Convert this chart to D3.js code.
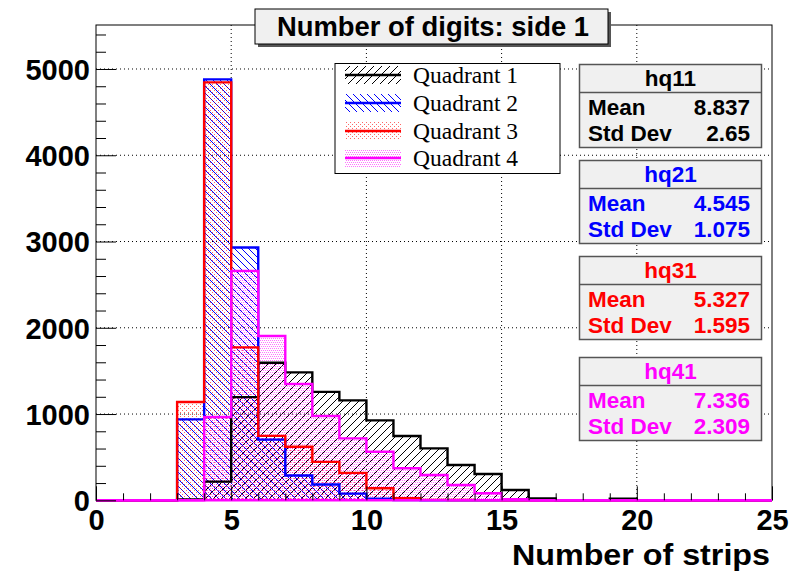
<!DOCTYPE html>
<html><head><meta charset="utf-8">
<script src="https://cdn.jsdelivr.net/npm/d3@7"></script>
<style>body{margin:0;background:#fff}svg{display:block}</style>
</head><body>
<script>
// ---- data ----
const binEdges = d3.range(0, 26); // 25 bins of width 1, from 0 to 25
const q1 = [0,0,0,10,216,1196,1595,1483,1257,1158,926,745,602,409,305,120,22,0,0,18,0,0,0,0,0];
const q2 = [0,0,0,938,4880,2931,703,287,183,77,18,4,0,0,0,0,0,0,0,0,0,0,0,0,0];
const q3 = [0,0,0,1140,4845,1773,747,620,446,318,140,24,5,3,2,0,0,0,0,0,0,0,0,0,0];
const q4 = [0,0,0,0,966,2660,1904,1348,978,718,563,371,293,177,81,12,0,0,0,0,0,0,0,0,0];
const seriesNames = ["Quadrant 1","Quadrant 2","Quadrant 3","Quadrant 4"];
const seriesColors = ["#000000","#0000ff","#ff0000","#ff00ff"];
const statNames = ["hq11","hq21","hq31","hq41"];
const statMeans = ["8.837","4.545","5.327","7.336"];
const statStd = ["2.65","1.075","1.595","2.309"];
const xTicks = [0,5,10,15,20,25];
const yTicks = [0,1000,2000,3000,4000,5000];
const titleText = "Number of digits: side 1";
const xTitle = "Number of strips";

const W = 803, H = 574;
const svg = d3.select("body").append("svg").attr("width", W).attr("height", H);
const defs = svg.append("defs");

const x = d3.scaleLinear().domain([0,25]).range([96,772]);
const y = d3.scaleLinear().domain([0,5510]).range([500.3,25]);

// patterns
function hatch(id, color, size, dir){
  const p = defs.append("pattern").attr("id",id).attr("patternUnits","userSpaceOnUse")
    .attr("width",size).attr("height",size);
  const d = dir > 0
    ? `M0,${size} L${size},0 M-1,1 L1,-1 M${size-1},${size+1} L${size+1},${size-1}`
    : `M0,0 L${size},${size} M-1,${size-1} L1,${size+1} M${size-1},-1 L${size+1},1`;
  p.append("path").attr("d",d).attr("stroke",color).attr("stroke-width",1).attr("fill","none");
}
function dots(id, color, pts, op){
  const p = defs.append("pattern").attr("id",id).attr("patternUnits","userSpaceOnUse")
    .attr("width",4).attr("height",4);
  pts.forEach(([a,b]) => p.append("rect").attr("x",a).attr("y",b).attr("width",1).attr("height",1)
    .attr("fill",color).attr("fill-opacity",op));
}
hatch("p1","#000",8,1);
hatch("p2","#0000ff",7,-1);
dots("p3","#ff0000",[[0,0],[2,2]],0.6);
dots("p4","#ff00ff",[[0,0],[2,0],[1,2],[3,2]],0.55);
const fills = ["url(#p1)","url(#p2)","url(#p3)","url(#p4)"];

// grid
const g = svg.append("g");
g.selectAll("line.gx").data(xTicks.filter(t=>t>0&&t<25)).join("line")
  .attr("x1",d=>x(d)).attr("x2",d=>x(d)).attr("y1",y.range()[1]).attr("y2",y(0))
  .attr("stroke","#000").attr("stroke-width",1).attr("stroke-dasharray","1,3");
g.selectAll("line.gy").data(yTicks.filter(t=>t>0)).join("line")
  .attr("x1",x(0)).attr("x2",x(25)).attr("y1",d=>y(d)).attr("y2",d=>y(d))
  .attr("stroke","#000").attr("stroke-width",1).attr("stroke-dasharray","1,3");

// histograms
const data = [q1,q2,q3,q4];
function stepPath(vals){
  let d = `M${x(0)},${y(0)}`;
  vals.forEach((v,i)=>{ d += `V${y(v)}H${x(binEdges[i+1])}`; });
  d += `V${y(0)}`;
  return d;
}
data.forEach((vals,i)=>{
  svg.append("path").attr("d", stepPath(vals) + "Z").attr("fill",fills[i]).attr("stroke","none");
});
data.forEach((vals,i)=>{
  svg.append("path").attr("d", stepPath(vals)).attr("fill","none")
    .attr("stroke",seriesColors[i]).attr("stroke-width",2.4).attr("stroke-linejoin","miter");
});

// frame
svg.append("rect").attr("x",x(0)).attr("y",y.range()[1]).attr("width",x(25)-x(0)).attr("height",y(0)-y.range()[1])
  .attr("fill","none").attr("stroke","#000").attr("stroke-width",1);
svg.append("line").attr("x1",x(0)).attr("x2",x(25)).attr("y1",y(0)).attr("y2",y(0))
  .attr("stroke","#ff00ff").attr("stroke-width",2.4);

// axes
const font = "'Liberation Sans', Arial, Helvetica, sans-serif";
svg.append("g").attr("transform",`translate(0,${y(0)})`)
  .call(d3.axisBottom(x).tickValues(xTicks).tickSize(-14).tickPadding(9).tickFormat(d3.format("d")));
svg.append("g").attr("transform",`translate(0,${y(0)})`)
  .call(d3.axisBottom(x).tickValues(d3.range(0,26).filter(v=>v%5)).tickSize(-7).tickFormat(""));
const yAxis = svg.append("g").attr("transform",`translate(${x(0)},0)`)
  .call(d3.axisLeft(y).tickValues(yTicks).tickSize(-20).tickPadding(6).tickFormat(d3.format("d")));
svg.append("g").attr("transform",`translate(${x(0)},0)`)
  .call(d3.axisLeft(y).tickValues(d3.range(0,5501,200).filter(v=>v%1000)).tickSize(-10).tickFormat(""));
svg.selectAll(".domain").remove();
svg.selectAll(".tick line").attr("stroke","#000").attr("stroke-width",1);
svg.selectAll(".tick text").attr("font-family",font).attr("font-weight","bold")
  .attr("font-size",29).attr("fill","#000");
yAxis.selectAll(".tick text").attr("dy","0.36em");

svg.append("text").attr("x",770).attr("y",565).attr("text-anchor","end")
  .attr("font-family",font).attr("font-weight","bold").attr("font-size",30)
  .attr("textLength",258).attr("lengthAdjust","spacingAndGlyphs").text(xTitle);

// title box
svg.append("rect").attr("x",258).attr("y",12).attr("width",353).attr("height",35).attr("fill","#555");
svg.append("rect").attr("x",255).attr("y",9).attr("width",353).attr("height",35)
  .attr("fill","#f0f0f0").attr("stroke","#000").attr("stroke-width",1);
svg.append("text").attr("x",433).attr("y",26.5).attr("dy","0.36em").attr("text-anchor","middle")
  .attr("font-family",font).attr("font-weight","bold").attr("font-size",27.4).text(titleText);

// legend
const lg = svg.append("g");
lg.append("rect").attr("x",335).attr("y",63.5).attr("width",225).attr("height",110)
  .attr("fill","#fff").attr("stroke","#000").attr("stroke-width",1);
const legY = [75,103,131,158];
seriesNames.forEach((n,i)=>{
  lg.append("rect").attr("x",345).attr("y",legY[i]-9).attr("width",56).attr("height",18).attr("fill",fills[i]);
  lg.append("line").attr("x1",345).attr("x2",401).attr("y1",legY[i]).attr("y2",legY[i])
    .attr("stroke",seriesColors[i]).attr("stroke-width",2.6);
  lg.append("text").attr("x",413).attr("y",legY[i]).attr("dy","0.35em")
    .attr("font-family","'Liberation Serif', 'Times New Roman', serif").attr("font-size",23.5)
    .attr("fill","#000").text(n);
});

// stat boxes
const boxTop = [64,160,256,357];
statNames.forEach((n,i)=>{
  const t = boxTop[i], c = seriesColors[i];
  const sg = svg.append("g");
  sg.append("rect").attr("x",579.5).attr("y",t+0.5).attr("width",182).attr("height",83)
    .attr("fill","#f0f0f0").attr("stroke","#555").attr("stroke-width",1.5);
  sg.append("line").attr("x1",579.5).attr("x2",761.5).attr("y1",t+28.5).attr("y2",t+28.5)
    .attr("stroke","#555").attr("stroke-width",1.5);
  const tx = (txt,xx,yy,anchor)=>sg.append("text").attr("x",xx).attr("y",yy).attr("dy","0.36em")
    .attr("text-anchor",anchor).attr("font-family",font).attr("font-weight","bold")
    .attr("font-size",22.5).attr("fill",c).text(txt);
  tx(n,670.5,t+13.5,"middle");
  tx("Mean",588,t+43,"start");
  tx(statMeans[i],750,t+43,"end");
  tx("Std Dev",588,t+69,"start");
  tx(statStd[i],750,t+69,"end");
});
</script>
</body></html>
